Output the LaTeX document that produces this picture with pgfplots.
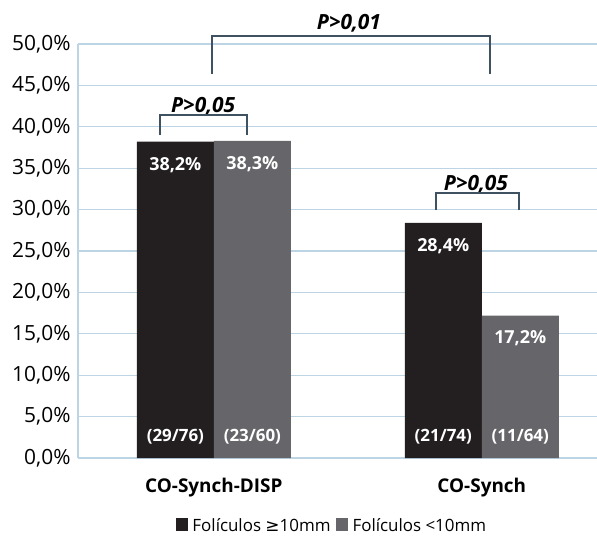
\documentclass[border=0pt]{standalone}
\usepackage{fontspec}
\setmainfont{Open Sans}
\newfontfamily\symfont{DejaVu Sans}
\usepackage{pgfplots}
\pgfplotsset{compat=1.18}
\definecolor{bardark}{RGB}{35,31,32}
\definecolor{bargray}{RGB}{102,102,106}
\definecolor{gridblue}{RGB}{188,212,228}
\definecolor{brack}{RGB}{62,82,98}

\begin{document}
\begin{tikzpicture}
\begin{axis}[
    at={(78bp,-458bp)}, anchor=south west,
    width=519bp, height=414bp, scale only axis,
    ybar=0pt, bar width=77bp,
    xmin=-0.507, xmax=1.43,
    ymin=0, ymax=50,
    xtick={0,1},
    xticklabels={CO-Synch-DISP, CO-Synch},
    xticklabel style={font=\fontsize{19}{22}\selectfont\bfseries, yshift=-17bp},
    ytick={0,5,...,50},
    yticklabel={\pgfmathprintnumber{\tick}\%},
    yticklabel style={font=\fontsize{21}{24}\selectfont, xshift=-4bp},
    /pgf/number format/.cd, use comma, fixed, fixed zerofill, precision=1, assume math mode=true,
    /pgfplots/.cd,
    major tick length=0pt,
    ymajorgrids, grid style={gridblue, line width=1.2bp},
    axis line style={gridblue, line width=1.2bp},
    axis x line*=bottom, axis y line*=left,
    clip=false,
    legend columns=2,
    legend style={at={(0.489,-0.163)}, anchor=center, draw=none, inner sep=1bp,
        font=\fontsize{17}{19}\selectfont, column sep=3bp},
    legend image code/.code={\fill[#1] (0bp,-6bp) rectangle (12bp,7bp);},
    nodes near coords={\pgfmathprintnumber{\pgfplotspointmeta}\%},
    every node near coord/.append style={anchor=center, yshift=-23bp, text=white,
        font=\fontsize{18}{20}\selectfont\bfseries},
]
\addplot[fill=bardark, draw=none] coordinates {(0,38.2) (1,28.4)};
\addlegendentry{Folículos {\symfont≥}10mm}
\addplot[fill=bargray, draw=none] coordinates {(0,38.3) (1,17.2)};
\addlegendentry{Folículos <10mm}

% counts at bar bottoms
\begin{scope}[every node/.style={text=white, font=\fontsize{17}{19}\selectfont\bfseries}]
\node[xshift=-38.5bp] at (axis cs:0,2.6) {(29/76)};
\node[xshift=38.5bp] at (axis cs:0,2.6) {(23/60)};
\node[xshift=-38.5bp] at (axis cs:1,2.6) {(21/74)};
\node[xshift=38.5bp] at (axis cs:1,2.6) {(11/64)};
\end{scope}

% p-value labels first, brackets drawn over them
\begin{scope}[every node/.style={fill=white, inner sep=1bp, anchor=base,
    font=\fontsize{21}{24}\selectfont\bfseries\itshape}]
\node at (axis cs:-0.04,41.75) {P>0,05};
\node at (axis cs:0.504,51.8) {P>0,01};
\node at (axis cs:0.978,32.3) {P>0,05};
\end{scope}
\draw[brack, line width=2bp] (axis cs:-0.20,39.0) |- (axis cs:0.123,41.4) -- (axis cs:0.123,39.0);
\draw[brack, line width=2bp] (axis cs:-0.007,46.4) |- (axis cs:1.03,51.0) -- (axis cs:1.03,46.4);
\draw[brack, line width=2bp] (axis cs:0.83,29.9) |- (axis cs:1.14,32.0) -- (axis cs:1.14,29.9);
\end{axis}
\pgfresetboundingbox
\useasboundingbox (0,0) rectangle (597bp,-537bp);
\end{tikzpicture}
\end{document}
